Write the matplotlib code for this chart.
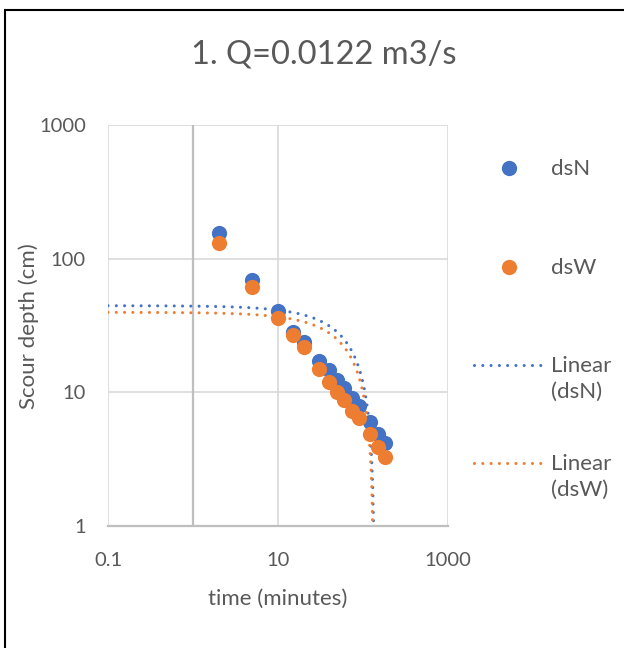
import numpy as np
import matplotlib
matplotlib.use('Agg')
import matplotlib.pyplot as plt
from matplotlib.lines import Line2D

plt.rcParams['font.family'] = ['Lato', 'DejaVu Sans']

# data
time_min = [2, 5, 10, 15, 20, 30, 40, 50, 60, 75, 90, 120, 150, 180]
dsN      = [155, 69, 40.6, 28.4, 23.9, 17.1, 14.7, 12.4, 10.7, 9.0, 7.9, 6.0, 4.9, 4.15]
dsW      = [132, 61, 35.8, 26.8, 21.9, 14.9, 11.9, 10.1, 8.8, 7.2, 6.4, 4.9, 3.9, 3.3]

# linear trendlines (intercept, slope) as shown on the chart
trend_N = (44.5, -0.327)
trend_W = (39.7, -0.298)

blue   = '#4472C4'
orange = '#ED7D31'
txt    = '#595959'

fig = plt.figure(figsize=(6.24, 6.48), dpi=100)
W, H = 624.0, 648.0

# chart border (only left/top visible in the frame)
fig.add_artist(plt.Rectangle((5 / W, -0.1), 1.2, 1 - 10 / H + 0.1, transform=fig.transFigure,
                             fill=False, edgecolor='black', linewidth=1.5))

ax = fig.add_axes([108 / W, 1 - 526 / H, 340 / W, 401 / H])
ax.set_xscale('log')
ax.set_yscale('log')
ax.set_xlim(0.1, 1000)
ax.set_ylim(1, 1000)

# gridlines
for gx in [0.1, 10, 1000]:
    ax.axvline(gx, color='#D9D9D9', lw=1.2, zorder=0)
for gy in [10, 100, 1000]:
    ax.axhline(gy, color='#D9D9D9', lw=1.2, zorder=0)
ax.axvline(1, color='#BFBFBF', lw=1.6, zorder=0.5)   # vertical axis crosses at 1
ax.axhline(1, color='#BFBFBF', lw=1.6, zorder=0.5, clip_on=False)

for s in ax.spines.values():
    s.set_visible(False)

ax.set_xticks([0.1, 10, 1000])
ax.set_xticklabels(['0.1', '10', '1000'])
ax.set_yticks([1, 10, 100, 1000])
ax.set_yticklabels(['1', '10', '100', '1000'])
ax.minorticks_off()
ax.tick_params(length=0, labelsize=14.5, colors=txt)
ax.tick_params(axis='y', pad=16)
ax.tick_params(axis='x', pad=19)

# trendlines
xt = np.geomspace(0.1, 1000, 2000)
dot = (0, (0.01, 2.7))
for (b0, b1), c in [(trend_N, blue), (trend_W, orange)]:
    yt = b0 + b1 * xt
    m = yt > 0
    ax.plot(xt[m], yt[m], color=c, lw=2.2, linestyle=dot, dash_capstyle='round', zorder=2)

ax.scatter(time_min, dsN, s=120, color=blue, zorder=3, linewidths=0)
ax.scatter(time_min, dsW, s=120, color=orange, zorder=4, linewidths=0)

ax.set_xlabel('time (minutes)', fontsize=16, color=txt, labelpad=14)
fig.text(29 / W, 1 - 326 / H, 'Scour depth (cm)', rotation=90, ha='center', va='center',
         fontsize=16, color=txt)
fig.text(324 / W, 1 - 54 / H, '1. Q=0.0122 m3/s', ha='center', va='center', fontsize=23.5, color=txt)

# legend, laid out by hand like the Excel one
leg_rows = [
    (168, 'dsN', blue, 'marker'),
    (267, 'dsW', orange, 'marker'),
    (365, 'Linear\n(dsN)', blue, 'line'),
    (463, 'Linear\n(dsW)', orange, 'line'),
]
for ypx, lab, c, kind in leg_rows:
    yf = 1 - ypx / H
    if kind == 'marker':
        fig.add_artist(Line2D([509 / W], [yf], marker='o', ls='none', color=c, markersize=11,
                              markeredgewidth=0, transform=fig.transFigure))
    else:
        fig.add_artist(Line2D([474 / W, 542 / W], [yf, yf], color=c, lw=2.2, linestyle=dot,
                              dash_capstyle='round', transform=fig.transFigure))
    fig.text(551 / W, yf + 9 / H, lab, ha='left', va='top', fontsize=16, color=txt,
             linespacing=1.35)

fig.savefig('out.png', dpi=100, facecolor='white')
